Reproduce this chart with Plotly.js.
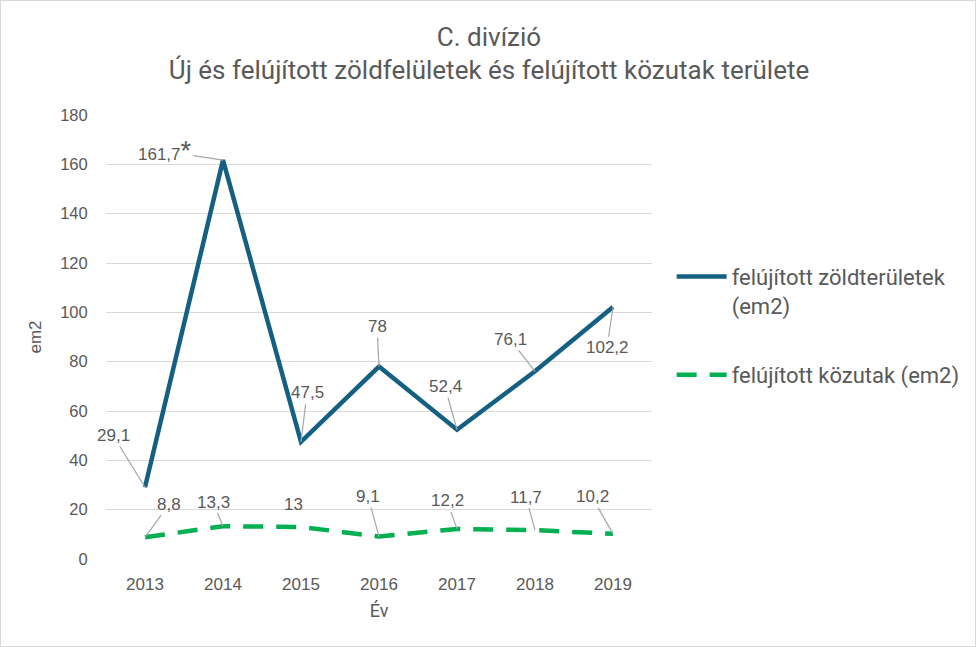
<!DOCTYPE html>
<html>
<head>
<meta charset="utf-8">
<script src="https://cdn.plot.ly/plotly-3.0.1.min.js"></script>
<style>
  html, body { margin: 0; padding: 0; background: #fff; }
  #chart { width: 976px; height: 647px; box-sizing: border-box; border: 1px solid #d9d9d9; }
</style>
</head>
<body>
<div id="chart"></div>
<script>
// ---- data ----
const years = ['2013', '2014', '2015', '2016', '2017', '2018', '2019'];
const greenAreas = [29.1, 161.7, 47.5, 78, 52.4, 76.1, 102.2];
const roads = [8.8, 13.3, 13, 9.1, 12.2, 11.7, 10.2];
const seriesNames = ['felújított zöldterületek<br>(em2)', 'felújított közutak (em2)'];
const yTicks = [0, 20, 40, 60, 80, 100, 120, 140, 160, 180];

// ---- label placement (pixel offsets of data labels, styling only) ----
const blueOffsets = [[-32, -52], [-58, -9], [6, -49], [-2, -40], [-12, -43], [-25, -32], [-6, 41]];
const greenOffsets = [[24, -33], [-10, -24], [-8, -22], [-11, -40], [-10, -28], [-9, -33], [-21, -37]];
const greenHiddenLeader = [false, false, true, false, false, false, false];

const TXT = '#595959';
const fmt = v => String(v).replace('.', ',');

const traces = [
  {
    x: years, y: greenAreas, name: seriesNames[0], type: 'scatter', mode: 'lines',
    line: { color: '#156082', width: 4.5 }, legendgroup: 'a'
  },
  {
    x: years, y: roads, name: seriesNames[1], type: 'scatter', mode: 'lines',
    line: { color: '#00B050', width: 4.5, dash: '20px,13px' }, legendgroup: 'b'
  }
];

const annotations = [];
const labelFont = { family: 'Liberation Sans, Arial, sans-serif', size: 17, color: TXT };
greenAreas.forEach((v, i) => {
  let txt = fmt(v);
  if (i === 1) txt += '<span style="font-size:27px">*</span>';
  annotations.push({
    x: i, y: v, xref: 'x', yref: 'y', text: txt, font: labelFont,
    showarrow: true, arrowhead: 0, arrowwidth: 1.2, arrowcolor: '#a6a6a6',
    ax: blueOffsets[i][0], ay: blueOffsets[i][1], standoff: 0
  });
});
roads.forEach((v, i) => {
  annotations.push({
    x: i, y: v, xref: 'x', yref: 'y', text: fmt(v), font: labelFont,
    showarrow: true, arrowhead: 0, arrowwidth: 1.2,
    arrowcolor: greenHiddenLeader[i] ? 'rgba(0,0,0,0)' : '#a6a6a6',
    ax: greenOffsets[i][0], ay: greenOffsets[i][1], standoff: 0
  });
});

const layout = {
  width: 976, height: 647,
  paper_bgcolor: 'rgba(0,0,0,0)', plot_bgcolor: '#fff',
  margin: { l: 105, r: 323, t: 114, b: 89, pad: 0 },
  title: {
    text: 'C. divízió<br>Új és felújított zöldfelületek és felújított közutak területe',
    font: { family: 'Roboto, sans-serif', size: 26, color: TXT },
    x: 0.5, xanchor: 'center', xref: 'container', yref: 'container', y: 0.931, yanchor: 'top'
  },
  xaxis: {
    type: 'category', range: [-0.5, 6.5], showgrid: false, zeroline: false, showline: false,
    ticks: 'outside', ticklen: 10, tickcolor: 'rgba(0,0,0,0)',
    tickfont: { family: 'Liberation Sans, Arial, sans-serif', size: 17, color: TXT },
    title: { text: 'Év', font: { family: 'Roboto, sans-serif', size: 18, color: TXT }, standoff: 10 }
  },
  yaxis: {
    range: [0, 180], tickvals: yTicks, ticktext: yTicks.map(String),
    showgrid: true, gridcolor: '#d9d9d9', gridwidth: 1.3, zeroline: false, showline: false,
    ticks: 'outside', ticklen: 14, tickcolor: 'rgba(0,0,0,0)',
    tickfont: { family: 'Liberation Sans, Arial, sans-serif', size: 16.5, color: TXT },
    title: { text: 'em2', font: { family: 'Liberation Sans, Arial, sans-serif', size: 17, color: TXT }, standoff: 14 }
  },
  showlegend: true,
  legend: {
    x: 1.036, xanchor: 'left', y: 0.683, yanchor: 'top',
    font: { family: 'Roboto, sans-serif', size: 22, color: TXT },
    valign: 'top', traceorder: 'grouped', tracegroupgap: 38,
    bgcolor: 'rgba(0,0,0,0)', itemwidth: 50
  },
  annotations: annotations,
  hovermode: false
};

Plotly.newPlot('chart', traces, layout, { displayModeBar: false });
</script>
</body>
</html>
